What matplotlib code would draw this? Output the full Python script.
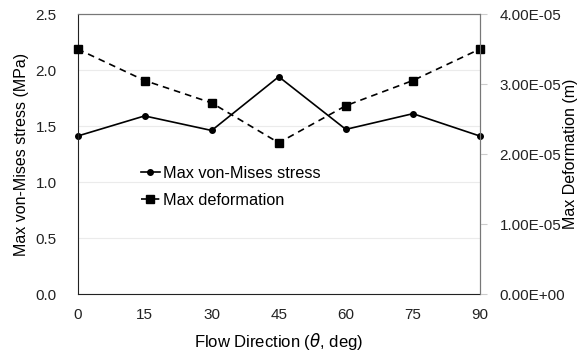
import matplotlib
matplotlib.use('Agg')
import matplotlib.pyplot as plt
from matplotlib.ticker import FuncFormatter

plt.rcParams['font.family'] = ['Liberation Sans', 'DejaVu Sans']

# flow direction vs. max stress / deformation
angles = [0, 15, 30, 45, 60, 75, 90]
stress = [1.41, 1.59, 1.46, 1.94, 1.47, 1.61, 1.41]          # MPa
deform = [3.50e-5, 3.05e-5, 2.73e-5, 2.16e-5, 2.69e-5, 3.05e-5, 3.50e-5]  # m


def sci_fmt(v, p):
    if v == 0:
        return '0.00E+00'
    m, e = f'{v:.2e}'.split('e')
    return '%sE%+03d' % (m, int(e))


fig = plt.figure(figsize=(5.8, 3.52), dpi=100)
ax = fig.add_axes([77.5/580, 1 - 294/352, (480 - 77.5)/580, 280/352])
ax2 = ax.twinx()

l1, = ax.plot(angles, stress, color='black', lw=1.2, marker='o', ms=4,
              label='Max von-Mises stress')
l2, = ax2.plot(angles, deform, color='black', lw=1.2, ls=(0, (4, 3)),
               marker='s', ms=6, label='Max deformation')
for ln in (l1, l2):
    ln.set_clip_on(False)

ax.set_xlim(0, 90)
ax.set_ylim(0, 2.5)
ax2.set_ylim(0, 4e-5)
ax.set_xticks(angles)
ax.set_yticks([0, 0.5, 1.0, 1.5, 2.0, 2.5])
ax.yaxis.set_major_formatter(FuncFormatter(lambda v, p: '%.1f' % v))
ax2.set_yticks([0, 1e-5, 2e-5, 3e-5, 4e-5])
ax2.yaxis.set_major_formatter(FuncFormatter(sci_fmt))

ax.grid(axis='y', color='#ebebeb', lw=0.8)
ax.set_axisbelow(True)
ax.tick_params(axis='y', length=0, labelsize=11, pad=15, colors='#222222')
ax.tick_params(axis='x', length=0, labelsize=11, pad=10, colors='#222222')
ax2.tick_params(axis='y', length=5, color='#cccccc', labelsize=11, pad=9,
                labelcolor='#222222')

for s in ('top', 'right'):
    ax.spines[s].set_color('#777777')
    ax2.spines[s].set_color('#777777')
ax.spines['left'].set_color('#222222')
ax.spines['bottom'].set_color('#222222')
ax2.spines['left'].set_visible(False)
ax2.spines['bottom'].set_visible(False)

ax.set_xlabel('Flow Direction ($\\mathit{\\theta}$, deg)', fontsize=12)
ax.set_ylabel('Max von-Mises stress (MPa)', fontsize=11.5)
ax2.set_ylabel('Max Deformation (m)', fontsize=11.5)
# place axis titles in figure pixels
px = lambda x, y: ax.transAxes.inverted().transform(
    fig.transFigure.transform((x/580, 1 - y/352)))
ax.xaxis.set_label_coords(*px(279, 342))
ax.yaxis.set_label_coords(*px(22, 154))
ax2.yaxis.set_label_coords(*px(571, 154))
ax.xaxis.label.set_va('center')
ax.yaxis.label.set_va('center')
ax2.yaxis.label.set_va('center')

leg = ax.legend(handles=[l1, l2], loc='upper left',
                bbox_to_anchor=(126/580, 1 - 151/352), bbox_transform=fig.transFigure,
                frameon=False, fontsize=11.7, handlelength=1.2, handletextpad=0.2,
                labelspacing=0.75)

fig.savefig('out.png', dpi=100)
